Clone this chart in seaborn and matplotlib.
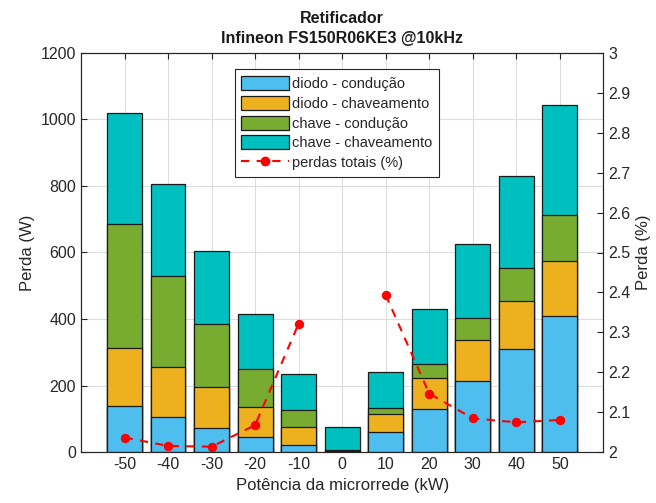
import numpy as np
import pandas as pd
import matplotlib
matplotlib.use("Agg")
import matplotlib.pyplot as plt
import seaborn as sns
from matplotlib.patches import Patch
from matplotlib.lines import Line2D

sns.set_style("white")
plt.rcParams['font.family'] = ['Liberation Sans', 'DejaVu Sans']

# ---- data ----
potencia = [-50, -40, -30, -20, -10, 0, 10, 20, 30, 40, 50]
diodo_conducao = [138, 105, 73, 45, 23, 2, 60, 131, 214, 310, 408]
diodo_chaveamento = [174, 150, 123, 90, 54, 2, 54, 93, 123, 145, 167]
chave_conducao = [375, 274, 190, 115, 49, 2, 19, 41, 67, 99, 137]
chave_chaveamento = [333, 278, 219, 165, 108, 71, 109, 164, 222, 276, 330]
perdas_totais = [2.037, 2.016, 2.014, 2.068, 2.322, np.nan, 2.394, 2.147, 2.085, 2.075, 2.081]

labels = ['diodo - condução', 'diodo - chaveamento', 'chave - condução', 'chave - chaveamento']
colors = ['#4DBEEE', '#EDB120', '#77AC30', '#00BFBF']
series = [diodo_conducao, diodo_chaveamento, chave_conducao, chave_chaveamento]

cum = np.zeros(len(potencia))
cums = []
for s in series:
    cum = cum + np.array(s, dtype=float)
    cums.append(cum.copy())

fig = plt.figure(figsize=(6.56, 5.03), dpi=100)
ax = fig.add_axes([81/656, 1-452.3/503, (603.3-81)/656, (452.3-52.7)/503])

edge = '#1a1a1a'
# draw cumulative totals from tallest to shortest -> stacked look
for i in range(len(series)-1, -1, -1):
    d = pd.DataFrame({'potencia': potencia, 'valor': cums[i]})
    sns.barplot(data=d, x='potencia', y='valor', native_scale=True, width=0.8,
                color=colors[i], saturation=1, edgecolor=edge, linewidth=0.9,
                ax=ax, errorbar=None)

ax.set_xlim(-60, 60)
ax.set_ylim(0, 1200)
ax.set_xticks(potencia)
ax.set_xticklabels([str(p) for p in potencia])
ax.set_yticks(np.arange(0, 1201, 200))
ax.grid(True, color='#dddddd', linewidth=0.8)
ax.set_axisbelow(True)
ax.set_xlabel('Potência da microrrede (kW)', fontsize=12, color='#262626')
ax.set_ylabel('Perda (W)', fontsize=12, color='#262626')
ax.tick_params(axis='both', direction='in', length=4, labelsize=11.5,
               colors='#262626', top=True, right=False)
for sp in ax.spines.values():
    sp.set_color('#262626')
    sp.set_linewidth(0.8)

ax2 = ax.twinx()
neg = pd.DataFrame({'potencia': potencia[:5], 'perc': perdas_totais[:5]})
pos = pd.DataFrame({'potencia': potencia[6:], 'perc': perdas_totais[6:]})
for d in (neg, pos):
    sns.lineplot(data=d, x='potencia', y='perc', ax=ax2, color='red', linewidth=1.5,
                 linestyle=(0, (4, 3.5)), marker='o', markersize=6, markeredgecolor='red',
                 estimator=None, sort=False)
ax2.set_ylim(2, 3)
ticks2 = np.round(np.arange(2, 3.01, 0.1), 1)
ax2.set_yticks(ticks2)
ax2.set_yticklabels(['%g' % v for v in ticks2])
ax2.set_ylabel('Perda (%)', fontsize=12, color='#262626')
ax2.tick_params(axis='y', direction='in', length=4, labelsize=11.5, colors='#262626')
ax2.grid(False)
for sp in ax2.spines.values():
    sp.set_color('#262626')
    sp.set_linewidth(0.8)

ax.set_title('Retificador\nInfineon FS150R06KE3 @10kHz', fontsize=11.5,
             fontweight='bold', color='#1a1a1a', pad=7, linespacing=1.4)

handles = [Patch(facecolor=c, edgecolor=edge, linewidth=0.9) for c in colors]
handles.append(Line2D([0], [0], color='red', linewidth=1.5, linestyle=(0, (4, 3.5)),
                      marker='o', markersize=6))
leg = ax2.legend(handles, labels + ['perdas totais (%)'], loc='upper center',
                 bbox_to_anchor=(0.49, 0.958), fontsize=10.5, frameon=True,
                 fancybox=False, edgecolor='#262626', framealpha=1,
                 handlelength=3.3, handleheight=1.1, labelspacing=0.33,
                 handletextpad=0.2, borderpad=0.45, borderaxespad=0)
leg.get_frame().set_linewidth(0.8)

fig.savefig('out.png', dpi=100)
